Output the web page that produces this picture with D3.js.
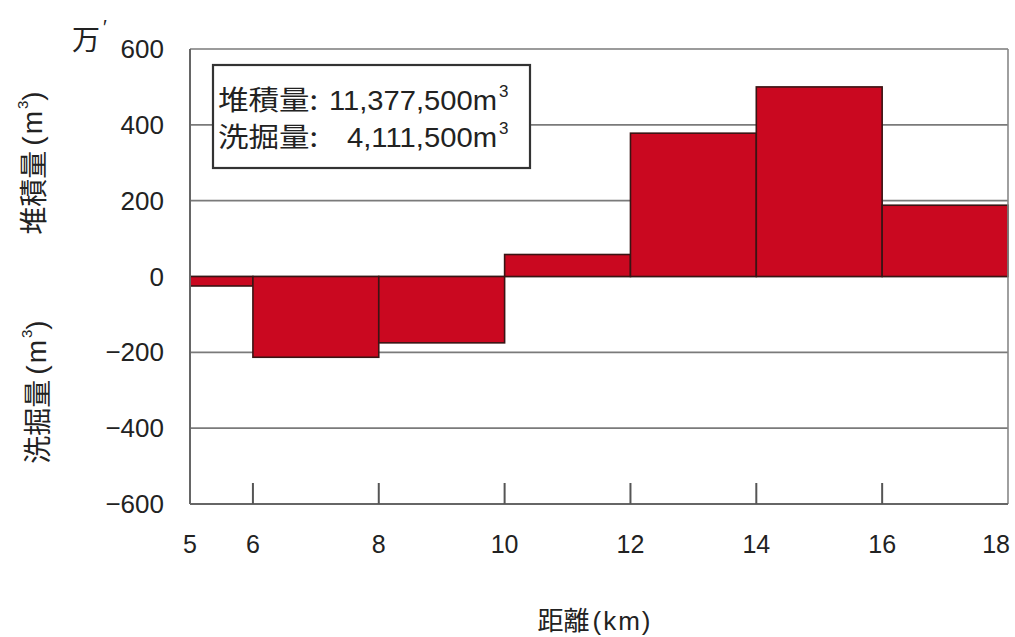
<!DOCTYPE html>
<html>
<head>
<meta charset="utf-8">
<script src="https://cdn.jsdelivr.net/npm/d3@7"></script>
<style>
  html, body { margin: 0; padding: 0; background: #ffffff; }
  svg { display: block; }
  text { font-family: "Liberation Sans", "Noto Sans CJK JP", sans-serif; fill: #222; }
</style>
</head>
<body>
<svg id="chart" width="1015" height="637"></svg>
<script>
// ---- data ----
const segStart = [5, 6, 8, 10, 12, 14, 16];
const segEnd   = [6, 8, 10, 12, 14, 16, 18];
const volumes  = [-25, -213, -175, 58, 378, 500, 188]; // 万m3
const yTicks   = [-600, -400, -200, 0, 200, 400, 600];
const xTicks   = [5, 6, 8, 10, 12, 14, 16, 18];
const xInnerTicks = [6, 8, 10, 12, 14, 16];
const legendLabels  = ["堆積量:", "洗掘量:"];
const legendNumbers = ["11,377,500m", "4,111,500m"];
const yTitleTop = "堆積量";
const yTitleBottom = "洗掘量";
const xTitle = "距離";
const unitLabel = "万";

// ---- layout ----
const svg = d3.select("#chart");
const L = 190, R = 1008, T = 49, B = 504;
const x = d3.scaleLinear().domain([5, 18]).range([L, R]);
const y = d3.scaleLinear().domain([-600, 600]).range([B, T]);

svg.append("rect").attr("width", 1015).attr("height", 637).attr("fill", "#ffffff");

// gridlines
svg.append("g").selectAll("line").data(yTicks.filter(d => d !== -600)).join("line")
  .attr("x1", L).attr("x2", R)
  .attr("y1", d => y(d)).attr("y2", d => y(d))
  .attr("stroke", "#7a7a7a").attr("stroke-width", 1.6);

// bars
svg.append("g").selectAll("rect").data(volumes).join("rect")
  .attr("x", (d, i) => x(segStart[i]))
  .attr("width", (d, i) => x(segEnd[i]) - x(segStart[i]))
  .attr("y", d => y(Math.max(0, d)))
  .attr("height", d => Math.abs(y(d) - y(0)))
  .attr("fill", "#ca0820")
  .attr("stroke", "#3a1414").attr("stroke-width", 1.6);

// axes frame
svg.append("line").attr("x1", L).attr("x2", L).attr("y1", T).attr("y2", B)
  .attr("stroke", "#666").attr("stroke-width", 2);
svg.append("line").attr("x1", R).attr("x2", R).attr("y1", T).attr("y2", B)
  .attr("stroke", "#888").attr("stroke-width", 1.6);
svg.append("line").attr("x1", L).attr("x2", R).attr("y1", B).attr("y2", B)
  .attr("stroke", "#666").attr("stroke-width", 2);

// x tick marks (inside, upward)
svg.append("g").selectAll("line").data(xInnerTicks).join("line")
  .attr("x1", d => x(d)).attr("x2", d => x(d))
  .attr("y1", B).attr("y2", B - 21)
  .attr("stroke", "#555").attr("stroke-width", 2);

// y tick labels
svg.append("g").selectAll("text").data(yTicks).join("text")
  .attr("x", 164).attr("y", d => y(d) + 9)
  .attr("text-anchor", "end")
  .attr("font-size", 26)
  .text(d => d < 0 ? "\u2212" + Math.abs(d) : String(d));

// x tick labels
svg.append("g").selectAll("text").data(xTicks).join("text")
  .attr("x", (d, i) => i === xTicks.length - 1 ? x(d) + 2 : x(d))
  .attr("y", 553)
  .attr("text-anchor", (d, i) => i === xTicks.length - 1 ? "end" : "middle")
  .attr("font-size", 25)
  .text(d => d);

// x title
const xt = svg.append("text").attr("x", 595).attr("y", 630)
  .attr("text-anchor", "middle").attr("font-size", 26);
xt.append("tspan").style("font-family", "'Noto Sans CJK JP'").text(xTitle);
xt.append("tspan").attr("dx", 3).style("letter-spacing", "2px").text("(km)");

// unit 万
svg.append("text").attr("x", 72).attr("y", 50).attr("font-size", 28)
  .style("font-family", "'Noto Sans CJK JP'").text(unitLabel);
svg.append("text").attr("x", 103).attr("y", 34).attr("font-size", 20).text("′");

// y titles (rotated)
function yTitle(label, cx, cy) {
  const t = svg.append("text")
    .attr("transform", `translate(${cx},${cy}) rotate(-90)`)
    .attr("text-anchor", "middle")
    .attr("dominant-baseline", "central")
    .attr("font-size", 28);
  t.append("tspan").style("font-family", "'Noto Sans CJK JP'").text(label);
  t.append("tspan").attr("dx", 5).style("letter-spacing", "2px").text("(m");
  t.append("tspan").attr("font-size", 15).attr("dy", -10).text("3");
  t.append("tspan").attr("dy", 10).text(")");
}
yTitle(yTitleTop, 32, 163);
yTitle(yTitleBottom, 36, 392);

// legend box
svg.append("rect").attr("x", 213).attr("y", 65).attr("width", 317).attr("height", 103)
  .attr("fill", "#ffffff").attr("stroke", "#333").attr("stroke-width", 2.2);
const lg = svg.append("g");
const labLen = [100, 100];
lg.selectAll("text.lab").data(legendLabels).join("text").attr("class", "lab")
  .attr("x", 218).attr("y", (d, i) => 110 + i * 37)
  .attr("font-size", 27)
  .attr("textLength", (d, i) => labLen[i])
  .attr("lengthAdjust", "spacingAndGlyphs")
  .style("font-family", "'Noto Sans CJK JP'")
  .text(d => d);
const numLen = [168, 150];
lg.selectAll("text.num").data(legendNumbers).join("text").attr("class", "num")
  .attr("x", (d, i) => 497 - numLen[i]).attr("y", (d, i) => 110 + i * 37)
  .attr("font-size", 27)
  .attr("textLength", (d, i) => numLen[i])
  .attr("lengthAdjust", "spacingAndGlyphs")
  .text(d => d);
lg.selectAll("text.sup").data(legendNumbers).join("text").attr("class", "sup")
  .attr("x", 499).attr("y", (d, i) => 97 + i * 37)
  .attr("font-size", 17)
  .text("3");
</script>
</body>
</html>
